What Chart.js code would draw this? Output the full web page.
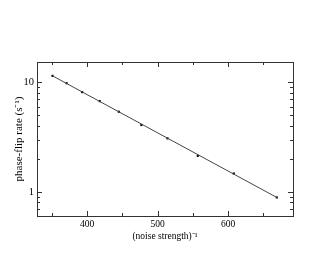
<!doctype html>
<html lang="en">
    <head>
        <meta charset="UTF-8" />
        <title>Phase-flip rate vs inverse noise strength</title>
        <script src="https://cdn.jsdelivr.net/npm/chart.js"></script>
        <style>
            html,
            body {
                margin: 0;
                padding: 0;
                background: #fff;
            }

            #wrap {
                width: 330px;
                height: 255px;
            }
        </style>
    </head>
    <body>
        <div id="wrap"><canvas id="chart"></canvas></div>
        <script>
            // measured points
            const noiseInv = [351, 371, 393, 418, 445, 477, 514, 557, 608, 669];
            const flipRate = [11.5, 9.85, 8.16, 6.75, 5.4, 4.08, 3.08, 2.13, 1.47, 0.887];

            // straight-line fit on the log axis
            const fitX = [351, 670];
            const fitY = [11.5, 0.88];

            // tick marks and the ones that carry a label
            const xTicks = [350, 400, 450, 500, 550, 600, 650];
            const xLabels = [400, 500, 600];
            const yTicks = [0.7, 0.8, 0.9, 1, 2, 3, 4, 5, 6, 7, 8, 9, 10];
            const yLabels = [1, 10];

            /*** * * ***/

            const FONT = "'Liberation Serif', 'Times New Roman', serif";

            // inward ticks on all four sides plus the box
            const frameTicks = {
                id: "frameTicks",
                afterDraw(chart) {
                    const { ctx, chartArea: a } = chart;
                    const { x, y } = chart.scales;

                    ctx.save();
                    ctx.strokeStyle = "#333";
                    ctx.lineWidth = 1;
                    ctx.beginPath();

                    x.ticks.forEach((t) => {
                        const px = Math.round(x.getPixelForValue(t.value)) + 0.5;
                        const len = xLabels.includes(t.value) ? 5 : 3;
                        ctx.moveTo(px, a.bottom);
                        ctx.lineTo(px, a.bottom - len);
                        ctx.moveTo(px, a.top);
                        ctx.lineTo(px, a.top + len);
                    });

                    y.ticks.forEach((t) => {
                        const py = Math.round(y.getPixelForValue(t.value)) + 0.5;
                        const len = yLabels.includes(t.value) ? 5 : 3;
                        ctx.moveTo(a.left, py);
                        ctx.lineTo(a.left + len, py);
                        ctx.moveTo(a.right, py);
                        ctx.lineTo(a.right - len, py);
                    });

                    ctx.stroke();
                    ctx.strokeRect(a.left + 0.5, a.top + 0.5, a.right - a.left, a.bottom - a.top);
                    ctx.restore();
                },
            };

            const ctx = document.getElementById("chart").getContext("2d");

            new Chart(ctx, {
                type: "scatter",
                data: {
                    datasets: [
                        {
                            label: "fit",
                            data: fitX.map((v, i) => ({ x: v, y: fitY[i] })),
                            showLine: true,
                            borderColor: "#444",
                            borderWidth: 1,
                            pointRadius: 0,
                        },
                        {
                            label: "phase-flip rate",
                            data: noiseInv.map((v, i) => ({ x: v, y: flipRate[i] })),
                            pointStyle: "rect",
                            pointRadius: 1.5,
                            backgroundColor: "#000",
                            borderColor: "#000",
                            borderWidth: 0,
                        },
                    ],
                },
                options: {
                    responsive: true,
                    maintainAspectRatio: false,
                    animation: false,
                    layout: {
                        padding: { left: 0, top: 62, right: 37, bottom: 0 },
                    },
                    plugins: {
                        legend: { display: false },
                        tooltip: { enabled: false },
                    },
                    scales: {
                        x: {
                            type: "linear",
                            min: 329,
                            max: 692,
                            afterBuildTicks: (s) => {
                                s.ticks = xTicks.map((v) => ({ value: v }));
                            },
                            afterFit: (s) => {
                                s.height = 39;
                            },
                            grid: { display: false, drawTicks: false },
                            border: { display: false },
                            ticks: {
                                padding: 3,
                                color: "#000",
                                font: { family: FONT, size: 9.5 },
                                autoSkip: false,
                                maxRotation: 0,
                                callback: (v) => (xLabels.includes(v) ? String(v) : ""),
                            },
                            title: {
                                display: true,
                                text: "(noise strength)⁻¹",
                                color: "#000",
                                font: { family: FONT, size: 9.5 },
                                padding: { top: 0, bottom: 13 },
                            },
                        },
                        y: {
                            type: "logarithmic",
                            min: 0.608,
                            max: 15.4,
                            afterBuildTicks: (s) => {
                                s.ticks = yTicks.map((v) => ({ value: v }));
                            },
                            afterFit: (s) => {
                                s.width = 37;
                            },
                            grid: { display: false, drawTicks: false },
                            border: { display: false },
                            ticks: {
                                padding: 3,
                                color: "#000",
                                font: { family: FONT, size: 10.5 },
                                autoSkip: false,
                                callback: (v) => (yLabels.includes(v) ? String(v) : ""),
                            },
                            title: {
                                display: true,
                                text: "phase-flip rate (s⁻¹)",
                                color: "#000",
                                font: { family: FONT, size: 11 },
                                padding: { top: 13, bottom: 0 },
                            },
                        },
                    },
                },
                plugins: [frameTicks],
            });
        </script>
    </body>
</html>
